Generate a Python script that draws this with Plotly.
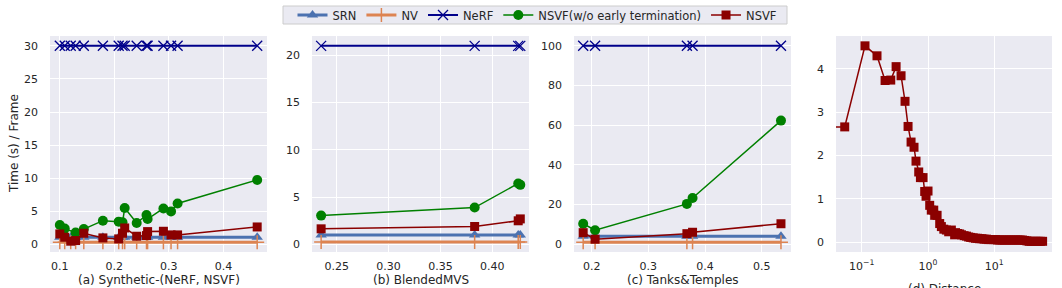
import plotly.graph_objects as go

# ---------------- data ----------------
# (a) Synthetic-(NeRF, NSVF)
xa = [0.100, 0.109, 0.120, 0.129, 0.144, 0.179, 0.208, 0.215, 0.219, 0.241, 0.259, 0.261, 0.290, 0.304, 0.316, 0.462]
srn_a = [1.1] * 16
nv_a = [0.35] * 16
nerf_a = [30] * 16
xa_green = [0.100, 0.109, 0.129, 0.144, 0.179, 0.208, 0.215, 0.219, 0.241, 0.259, 0.261, 0.290, 0.304, 0.316, 0.462]
nsvf_noet_a = [2.95, 2.4, 1.8, 2.35, 3.6, 3.45, 3.35, 5.5, 3.25, 4.45, 3.85, 5.45, 5.0, 6.2, 9.75]
nsvf_a = [1.6, 1.1, 0.5, 0.6, 1.7, 1.0, 0.85, 1.7, 2.5, 1.25, 1.35, 1.95, 2.0, 1.45, 1.45, 2.65]

# (b) BlendedMVS
xb = [0.235, 0.383, 0.425, 0.427]
srn_b = [1.0] * 4
nv_b = [0.25] * 4
nerf_b = [21] * 4
nsvf_noet_b = [3.05, 3.9, 6.45, 6.3]
nsvf_b = [1.65, 1.9, 2.5, 2.7]

# (c) Tanks&Temples
xc = [0.185, 0.206, 0.368, 0.378, 0.534]
srn_c = [4.0] * 5
nv_c = [1.0] * 5
nerf_c = [100] * 5
nsvf_noet_c = [10.3, 7.0, 20.3, 23.3, 62.3]
nsvf_c = [5.8, 2.5, 5.3, 6.0, 10.3]

# (d) Distance
dist = [0.01, 0.0554, 0.112, 0.170, 0.225, 0.274, 0.330, 0.392, 0.450, 0.500, 0.555, 0.615, 0.659,
        0.724, 0.768, 0.841, 0.891, 0.933, 1.00, 1.06, 1.12, 1.22, 1.26, 1.37, 1.50, 1.59, 1.73,
        1.89, 2.05, 2.25, 2.52,
        2.6, 2.8, 3.0, 3.2, 3.5, 3.8, 4.1, 4.4, 4.8, 5.2, 5.6, 6.0, 6.5, 7.0, 7.6, 8.2, 8.9, 9.6,
        10.4, 11.2, 12.1, 13.1, 14.2, 15.3, 16.6, 17.9, 19.4, 21.0, 22.7, 24.5, 26.5, 28.7, 31.0,
        33.5, 36.2, 39.2, 42.4, 45.8, 49.5, 53.5]
time_d = [2.65, 2.66, 4.53, 4.30, 3.73, 3.74, 4.05, 3.84, 3.25, 2.67, 2.31, 2.19, 1.87,
          1.62, 1.49, 1.49, 1.17, 1.06, 1.18, 0.85, 0.74, 0.74, 0.62, 0.62, 0.43, 0.36, 0.30,
          0.28, 0.24, 0.28, 0.17,
          0.22, 0.20, 0.19, 0.17, 0.15, 0.14, 0.12, 0.11, 0.10, 0.09, 0.09, 0.08, 0.08, 0.07, 0.07,
          0.06, 0.06, 0.06, 0.06, 0.05, 0.05, 0.05, 0.05, 0.05, 0.05, 0.05, 0.05, 0.05, 0.05,
          0.05, 0.05, 0.04, 0.03, 0.02, 0.02, 0.02, 0.02, 0.02, 0.02, 0.02]

panel_titles = ["(a) Synthetic-(NeRF, NSVF)", "(b) BlendedMVS", "(c) Tanks&Temples", "(d) Distance"]

# ---------------- styles ----------------
C_SRN = "#4C72B0"
C_NV = "#DD8452"
C_NERF = "#00008B"
C_GREEN = "#008000"
C_RED = "#8B0000"
BG = "#EAEAF2"
TXT = "#262626"
FONT = "DejaVu Sans"

W, H = 1062, 288
px_x = [(50, 267), (312, 529), (574, 791), (836, 1052)]
y_dom = [1 - 252 / H, 1 - 36 / H]

fig = go.Figure()

def add_panel(i, x_srn, srn, x_nv, nv, x_nerf, nerf, x_g, g, x_r, r):
    sfx = "" if i == 0 else str(i + 1)
    xa_ref, ya_ref = "x" + sfx, "y" + sfx
    show = i == 0
    fig.add_trace(go.Scatter(x=x_srn, y=srn, mode="lines+markers", name="SRN", xaxis=xa_ref, yaxis=ya_ref,
                             line=dict(color=C_SRN, width=3), marker=dict(symbol="triangle-up", size=10, color=C_SRN),
                             showlegend=show, legendgroup="SRN"))
    fig.add_trace(go.Scatter(x=x_nv, y=nv, mode="lines+markers", name="NV", xaxis=xa_ref, yaxis=ya_ref,
                             line=dict(color=C_NV, width=3),
                             marker=dict(symbol="cross-thin", size=10, color=C_NV, line=dict(color=C_NV, width=1.5)),
                             showlegend=show, legendgroup="NV"))
    fig.add_trace(go.Scatter(x=x_nerf, y=nerf, mode="lines+markers", name="NeRF", xaxis=xa_ref, yaxis=ya_ref,
                             line=dict(color=C_NERF, width=2),
                             marker=dict(symbol="x-thin", size=10, color=C_NERF, line=dict(color=C_NERF, width=1.3)),
                             showlegend=show, legendgroup="NeRF"))
    fig.add_trace(go.Scatter(x=x_g, y=g, mode="lines+markers", name="NSVF(w/o early termination)",
                             xaxis=xa_ref, yaxis=ya_ref,
                             line=dict(color=C_GREEN, width=1.5), marker=dict(symbol="circle", size=10, color=C_GREEN),
                             showlegend=show, legendgroup="G"))
    fig.add_trace(go.Scatter(x=x_r, y=r, mode="lines+markers", name="NSVF", xaxis=xa_ref, yaxis=ya_ref,
                             line=dict(color=C_RED, width=1.5), marker=dict(symbol="square", size=9, color=C_RED),
                             showlegend=show, legendgroup="R"))

add_panel(0, xa, srn_a, xa, nv_a, xa, nerf_a, xa_green, nsvf_noet_a, xa, nsvf_a)
add_panel(1, xb, srn_b, xb, nv_b, xb, nerf_b, xb, nsvf_noet_b, xb, nsvf_b)
add_panel(2, xc, srn_c, xc, nv_c, xc, nerf_c, xc, nsvf_noet_c, xc, nsvf_c)

fig.add_trace(go.Scatter(x=dist, y=time_d, mode="lines+markers", name="NSVF", xaxis="x4", yaxis="y4",
                         line=dict(color=C_RED, width=1.5), marker=dict(symbol="square", size=9, color=C_RED),
                         showlegend=False, legendgroup="R"))

axis_common = dict(showgrid=True, gridcolor="white", gridwidth=1, zeroline=False, showline=False,
                   ticks="", automargin=False, tickfont=dict(family=FONT, size=11, color=TXT))

x_ranges = [[0.082, 0.48], [0.2262, 0.4354], [0.1688, 0.5517], None]
x_ticks = [[0.1, 0.2, 0.3, 0.4], [0.25, 0.30, 0.35, 0.40], [0.2, 0.3, 0.4, 0.5], None]
x_fmt = [".1f", ".2f", ".1f", None]
y_ranges = [[-1.13, 31.48], [-0.8, 22.04], [-3.95, 104.95], [-0.2265, 4.757]]
y_ticks = [[0, 5, 10, 15, 20, 25, 30], [0, 5, 10, 15, 20], [0, 20, 40, 60, 80, 100], [0, 1, 2, 3, 4]]

layout = dict(width=W, height=H, margin=dict(l=0, r=0, t=0, b=0, autoexpand=False),
              paper_bgcolor="white", plot_bgcolor=BG, font=dict(family=FONT, color=TXT))

for i in range(4):
    sfx = "" if i == 0 else str(i + 1)
    dom = [px_x[i][0] / W, px_x[i][1] / W]
    xax = dict(axis_common, domain=dom, anchor="y" + sfx, ticklabelstandoff=6)
    if i < 3:
        xax.update(range=x_ranges[i], tickvals=x_ticks[i], tickformat=x_fmt[i])
    else:
        xax.update(type="log", range=[-1.388, 1.87], tickvals=[0.1, 1, 10],
                   ticktext=["10<sup>\u22121</sup>", "10<sup>0</sup>", "10<sup>1</sup>"])
    yax = dict(axis_common, domain=y_dom, anchor="x" + sfx, range=y_ranges[i], tickvals=y_ticks[i],
               ticklabelstandoff=11)
    layout["xaxis" + sfx] = xax
    layout["yaxis" + sfx] = yax

fig.update_layout(**layout)

# legend box drawn as a shape, legend itself transparent
fig.add_shape(type="rect", xref="paper", yref="paper", x0=283 / W, x1=787 / W, y0=1 - 24 / H, y1=1 - 6 / H,
              fillcolor=BG, line=dict(color="#CCCCCC", width=1), layer="below")
fig.update_layout(legend=dict(orientation="h", x=537 / W, xanchor="center", y=1 - 15 / H, yanchor="middle",
                              bgcolor="rgba(0,0,0,0)", borderwidth=0,
                              font=dict(family=FONT, size=11.5, color=TXT), itemwidth=30,
                              tracegroupgap=0))

annots = []
title_y = [280, 280, 280, 289]
for i, t in enumerate(panel_titles):
    cx = (px_x[i][0] + px_x[i][1]) / 2 / W
    annots.append(dict(text=t, x=cx, y=1 - title_y[i] / H, xref="paper", yref="paper",
                       xanchor="center", yanchor="middle", showarrow=False,
                       font=dict(family=FONT, size=12, color=TXT)))
annots.append(dict(text="Time (s) / Frame", x=14 / W, y=1 - 144 / H, xref="paper", yref="paper",
                   xanchor="center", yanchor="middle", textangle=-90, showarrow=False,
                   font=dict(family=FONT, size=12, color=TXT)))
fig.update_layout(annotations=annots)

fig.write_html("out.html", config={"displayModeBar": False},
               post_script="document.body.style.margin='0';document.body.style.overflow='hidden';")
